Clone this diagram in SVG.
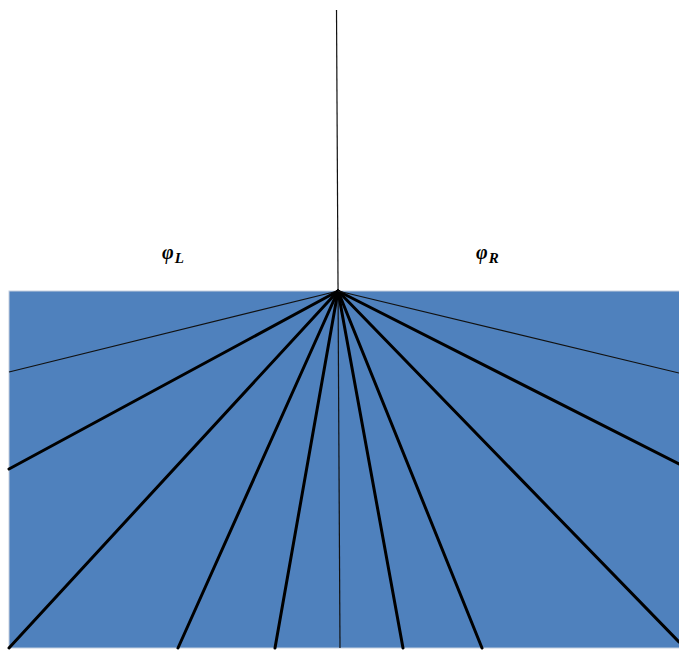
<svg xmlns="http://www.w3.org/2000/svg" width="679" height="650" viewBox="0 0 679 650">
<style>
.thick{stroke:#000;stroke-width:3;fill:none;stroke-linecap:round}
.thin{stroke:#111;stroke-width:1.2;fill:none}
.lbl{font-family:"Liberation Serif",serif;font-style:italic;font-weight:bold;fill:#000}
</style>
<rect width="679" height="650" fill="#fff"/>
<g id="block">
<rect x="9" y="291" width="672" height="357" fill="#4F81BD" stroke="#C5D0E0" stroke-width="1"/>
</g>
<g id="connectors">
<line class="thin" x1="336.5" y1="10" x2="340" y2="648" stroke="#333"/>
<line class="thin" x1="338" y1="291" x2="9" y2="372"/>
<line class="thick" x1="338" y1="291" x2="9" y2="469"/>
<line class="thick" x1="338" y1="291" x2="9" y2="648"/>
<line class="thick" x1="338" y1="291" x2="178" y2="648"/>
<line class="thick" x1="338" y1="291" x2="275" y2="648"/>
<line class="thick" x1="338" y1="291" x2="403" y2="648"/>
<line class="thick" x1="338" y1="291" x2="482" y2="648"/>
<line class="thick" x1="338" y1="291" x2="679" y2="642"/>
<line class="thick" x1="338" y1="291" x2="679" y2="464"/>
<line class="thin" x1="338" y1="291" x2="679" y2="373"/>
</g>
<g id="label-left">
<text class="lbl" x="162" y="259" font-size="20">φ<tspan font-size="15" dx="1" dy="4">L</tspan></text>
</g>
<g id="label-right">
<text class="lbl" x="476" y="259" font-size="20">φ<tspan font-size="15" dx="1" dy="4">R</tspan></text>
</g>
</svg>
